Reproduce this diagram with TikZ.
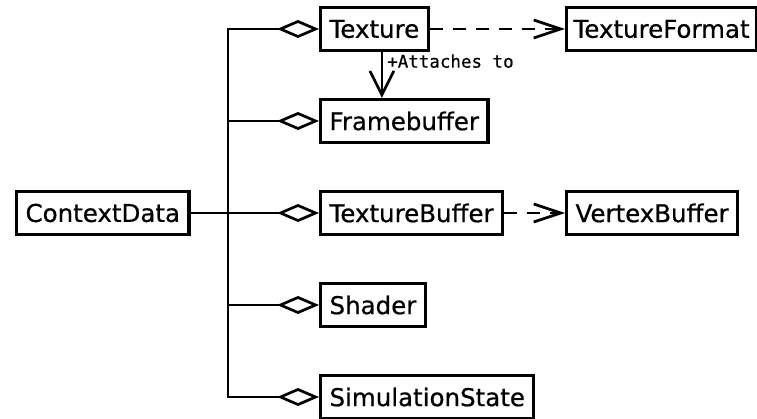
\documentclass[tikz,border=0pt]{standalone}
\usepackage{fontspec}
\setmainfont[FakeBold=0.6]{DejaVu Sans}
\newfontfamily\monofont[FakeBold=0.5]{DejaVu Sans Mono}
\usetikzlibrary{arrows.meta}

\begin{document}
\begin{tikzpicture}[x=1pt,y=-1pt,
  cls/.style={draw, line width=3.1pt, inner xsep=9pt, inner ysep=0pt,
              minimum height=43pt, anchor=west,
              font=\fontsize{24.5}{28}\selectfont},
  conn/.style={line width=2.7pt},
  agg/.style={conn, {Diamond[open,length=42pt,width=18pt]}-},
  aggend/.style={conn, -{Diamond[open,length=42pt,width=18pt]}},
  aggboth/.style={conn, {Diamond[open,length=42pt,width=18pt]}-{Diamond[open,length=42pt,width=18pt]}},
  dep/.style={conn, dash pattern=on 13pt off 10pt,
              -{Straight Barb[length=27pt,width=18pt]}},
  assoc/.style={conn, -{Straight Barb[length=24pt,width=24pt]}},
  lbl/.style={font=\monofont\fontsize{17.5}{20}\selectfont, inner sep=0pt}]

  \useasboundingbox (0,0) rectangle (757,419);

  % classes
  \node[cls] (tex)  at (319,29)  {Texture};
  \node[cls, inner xsep=0pt] (fmt) at (565,29)
        {\makebox[190pt][l]{\hspace{7pt}TextureFormat}};
  \node[cls] (fb)   at (319,121) {Framebuffer};
  \node[cls] (cd)   at (15,213)  {ContextData};
  \node[cls] (tb)   at (319,213) {TextureBuffer};
  \node[cls] (vb)   at (565,213) {VertexBuffer};
  \node[cls] (sh)   at (319,305) {Shader};
  \node[cls] (sim)  at (319,397) {SimulationState};

  % shared aggregation trunk
  \coordinate (trunk) at (228,0);
  \draw[aggboth] (tex.west) -- (tex.west -| trunk) -- (sim.west -| trunk) -- (sim.west);
  \draw[agg] (fb.west) -- (fb.west -| trunk);
  \draw[agg] (sh.west) -- (sh.west -| trunk);
  \draw[aggend] (cd.east) -- (tb.west);

  % dependencies
  \draw[dep] (tex.east) -- (fmt.west);
  \draw[dep] (tb.east) -- (vb.west);

  % association
  \draw[assoc] ([xshift=7.5pt]tex.south) -- node[lbl, pos=0.34, anchor=base west, xshift=4pt] {+Attaches to}
               ([xshift=7.5pt]tex.south |- fb.north);
\end{tikzpicture}
\end{document}
